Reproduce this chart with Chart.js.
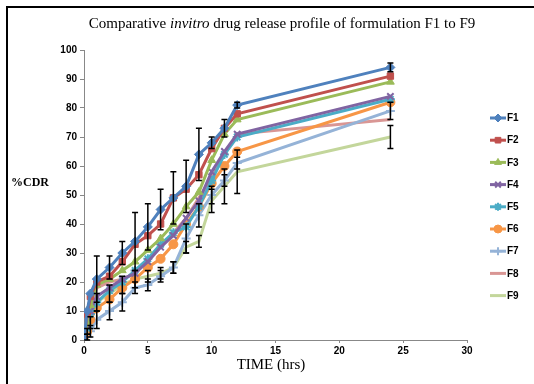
<!DOCTYPE html>
<html>
<head>
<meta charset="utf-8">
<script src="https://cdn.jsdelivr.net/npm/chart.js@4/dist/chart.umd.min.js"></script>
<style>
    html, body { margin: 0; padding: 0; background: #fff; overflow: hidden; }
    #wrap { position: relative; width: 534px; height: 384px; }
    #frame { position: absolute; left: 6px; top: 6px; width: 600px; height: 500px; border: 2px solid #000; }
    #title { position: absolute; left: 0; width: 564px; top: 15px; text-align: center;
             font: 15px "Liberation Serif", "DejaVu Serif", serif; color: #000; }
    #ytitle { position: absolute; left: 11px; top: 175px; font: bold 12px "Liberation Serif", serif; }
    #xtitle { position: absolute; left: 0; width: 542px; top: 356px; text-align: center;
              font: 15px "Liberation Serif", serif; }
    canvas { position: absolute; left: 0; top: 0; }
</style>
</head>
<body>
<div id="wrap">
    <div id="frame"></div>
    <canvas id="release-chart" width="534" height="384"></canvas>
    <div id="title">Comparative <i>invitro</i> drug release profile of formulation F1 to F9</div>
    <div id="ytitle">%CDR</div>
    <div id="xtitle">TIME (hrs)</div>
</div>
<script>
// sampling times (hrs)
const times = [0, 0.25, 0.5, 1, 2, 3, 4, 5, 6, 7, 8, 9, 10, 11, 12, 24];
const xTicks = [0, 5, 10, 15, 20, 25, 30];

// cumulative drug release (%) per formulation
const f1 = [0, 10, 16, 21, 25, 30, 34, 39, 45, 49, 53, 64, 68, 73, 81, 94];
const f2 = [0, 9, 15, 20, 22, 27, 33, 36, 40, 49, 52, 57, 66, 73, 78, 91];
const f3 = [0, 6, 12, 19, 21, 24, 27, 31, 35, 40, 46, 51, 62, 71, 76, 89];
const f4 = [0, 5, 10, 15, 18, 21, 23, 27, 32, 36, 42, 48, 58, 65, 71, 84];
const f5 = [0, 4, 9, 13, 17, 20, 24, 28, 33, 37, 39, 46, 55, 64, 70, 83];
const f6 = [0, 3, 7, 11, 14, 18, 21, 25, 28, 33, 40, 46, 54, 60, 65, 82];
const f7 = [0, 1, 3, 7, 10, 13, 18, 19, 22, 25, 35, 43, 50, 55, 61, 79];
const f8 = [0, 6, 12, 18, 20, 21, 23, 28, 32, 37, 42, 49, 56, 64, 71, 76];
const f9 = [0, 3, 6, 13, 16, 19, 21, 22, 23, 25, 32, 34, 48, 53, 58, 70];

// standard deviations (error bars)
const f1Err = [0, 0, 0, 8, 4, 4, 10, 8, 7, 9, 9, 9, 2, 3, 1, 1.5];
const f7Err = [0, 1, 2, 3, 3, 3, 2, 2, 2, 2, 5, 4, 3, 2, 2, 3];
const f9Err = [0, 1, 2, 3, 3, 3, 3, 2, 2, 2, 2, 2, 4, 6, 7.5, 4];

const names = ['F1', 'F2', 'F3', 'F4', 'F5', 'F6', 'F7', 'F8', 'F9'];
const series = [f1, f2, f3, f4, f5, f6, f7, f8, f9];
const errors = [f1Err, null, null, null, null, null, f7Err, null, f9Err];
const colors = ['#4F81BD', '#C0504D', '#9BBB59', '#8064A2', '#4BACC6', '#F79646', '#95B3D7', '#D99694', '#C3D69B'];
const markers = ['rectRot', 'rect', 'triangle', 'crossRot', 'star', 'circle', 'cross', false, false];
const thinMarks = ['crossRot', 'star', 'cross'];

const datasets = series.map((vals, i) => ({
    label: names[i],
    data: vals.map((v, j) => ({ x: times[j], y: v })),
    errors: errors[i],
    borderColor: colors[i],
    backgroundColor: colors[i],
    borderWidth: 3,
    pointStyle: markers[i],
    pointRadius: markers[i] ? 4.5 : 0,
    pointBorderWidth: thinMarks.includes(markers[i]) ? 2 : 1,
    tension: 0
}));

// black error bars with caps
const errorBars = {
    id: 'errorBars',
    afterDatasetsDraw(chart) {
        const ctx = chart.ctx;
        const xs = chart.scales.x, ys = chart.scales.y;
        ctx.save();
        ctx.strokeStyle = '#000';
        ctx.lineWidth = 1.5;
        chart.data.datasets.forEach(ds => {
            if (!ds.errors) return;
            ds.data.forEach((p, j) => {
                const e = ds.errors[j];
                if (!e) return;
                const x = xs.getPixelForValue(p.x);
                const top = ys.getPixelForValue(p.y + e);
                const bot = ys.getPixelForValue(p.y - e);
                ctx.beginPath();
                ctx.moveTo(x, top); ctx.lineTo(x, bot);
                ctx.moveTo(x - 3, top); ctx.lineTo(x + 3, top);
                ctx.moveTo(x - 3, bot); ctx.lineTo(x + 3, bot);
                ctx.stroke();
            });
        });
        ctx.restore();
    }
};

// legend on the right: line sample with marker, then name
const sideLegend = {
    id: 'sideLegend',
    afterDraw(chart) {
        const ctx = chart.ctx;
        ctx.save();
        ctx.font = 'bold 10px "Liberation Sans", Arial, sans-serif';
        ctx.textBaseline = 'middle';
        chart.data.datasets.forEach((ds, i) => {
            const y = 118 + i * 22.2;
            ctx.strokeStyle = ds.borderColor;
            ctx.lineWidth = 3;
            ctx.beginPath();
            ctx.moveTo(490, y); ctx.lineTo(506, y);
            ctx.stroke();
            if (ds.pointStyle) {
                ctx.fillStyle = ds.backgroundColor;
                ctx.lineWidth = ds.pointBorderWidth;
                Chart.helpers.drawPoint(ctx, { pointStyle: ds.pointStyle, radius: 4, borderWidth: ds.pointBorderWidth, rotation: 0 }, 498, y);
            }
            ctx.fillStyle = '#000';
            ctx.fillText(ds.label, 507, y + 0.5);
        });
        ctx.restore();
    }
};

const tickFont = { family: '"Liberation Sans", Arial, sans-serif', size: 10, weight: 'bold' };

new Chart(document.getElementById('release-chart'), {
    type: 'line',
    data: { datasets: datasets },
    plugins: [errorBars, sideLegend],
    options: {
        responsive: false,
        animation: false,
        layout: { padding: { left: 30, right: 67, top: 50, bottom: 28 } },
        plugins: { legend: { display: false }, title: { display: false }, tooltip: { enabled: false } },
        scales: {
            x: {
                type: 'linear',
                min: 0, max: 30,
                afterBuildTicks: s => { s.ticks = xTicks.map(v => ({ value: v })); },
                afterFit: s => { s.height = 16; },
                grid: { drawOnChartArea: false, color: '#888', tickLength: 3 },
                border: { color: '#888', width: 1 },
                ticks: { color: '#000', font: tickFont, padding: 2, maxRotation: 0 }
            },
            y: {
                min: 0, max: 100,
                afterFit: s => { s.width = 54; },
                grid: { drawOnChartArea: false, color: '#888', tickLength: 4 },
                border: { color: '#888', width: 1 },
                ticks: { color: '#000', font: tickFont, stepSize: 10, padding: 3 }
            }
        }
    }
});
</script>
</body>
</html>
